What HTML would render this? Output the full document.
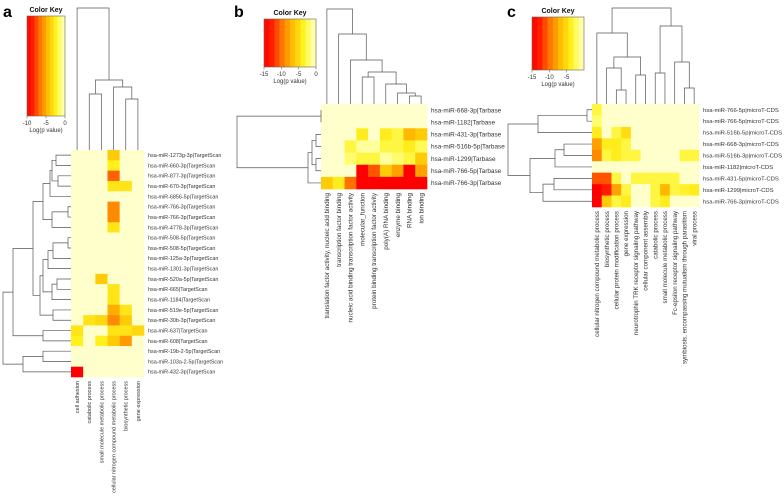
<!DOCTYPE html>
<html><head><meta charset="utf-8"><style>
html,body{margin:0;padding:0;background:#fff;width:784px;height:496px;overflow:hidden}
svg{display:block;font-family:"Liberation Sans",sans-serif}
</style></head><body>
<svg id="fig" width="784" height="496" viewBox="0 0 784 496"></svg>
<script>
// ---------- DATA ----------
const aRows = ["hsa-miR-1273g-3p|TargetScan","hsa-miR-660-3p|TargetScan","hsa-miR-877-3p|TargetScan","hsa-miR-670-3p|TargetScan","hsa-miR-6856-5p|TargetScan","hsa-miR-766-3p|TargetScan","hsa-miR-766-3p|TargetScan","hsa-miR-4778-3p|TargetScan","hsa-miR-508-5p|TargetScan","hsa-miR-508-5p|TargetScan","hsa-miR-125a-3p|TargetScan","hsa-miR-1301-3p|TargetScan","hsa-miR-520a-5p|TargetScan","hsa-miR-665|TargetScan","hsa-miR-1184|TargetScan","hsa-miR-519e-5p|TargetScan","hsa-miR-30b-3p|TargetScan","hsa-miR-637|TargetScan","hsa-miR-608|TargetScan","hsa-miR-19b-2-5p|TargetScan","hsa-miR-103a-2-5p|TargetScan","hsa-miR-432-3p|TargetScan"];
const aCols = ["cell adhesion","catabolic process","small molecule metabolic process","cellular nitrogen compound metabolic process","biosynthetic process","gene expression"];
const aVals = [
[0,0,0,-4,0,0],[0,0,0,-2.5,0,0],[0,0,0,-7,0,0],[0,0,0,-3,-3,0],[0,0,0,0,0,0],
[0,0,0,-6,0,0],[0,0,0,-6,0,0],[0,0,0,-3,0,0],[0,0,0,0,0,0],[0,0,0,0,0,0],
[0,0,0,0,0,0],[0,0,0,0,0,0],[0,0,-4,0,0,0],[0,0,0,-3,0,0],[0,0,0,-3,0,0],
[0,0,0,-5,-3,0],[0,-3,-3.5,-6,-4,0],[-3,0,0,-3,-3,-3.5],[-2.5,0,-2.5,-4,-5.5,0],
[0,0,0,0,0,0],[0,0,0,0,0,0],[-10,0,0,0,0,0]];
const aTicks = ["-10","-5","0"];

const bRows = ["hsa-miR-668-3p|Tarbase","hsa-miR-1182|Tarbase","hsa-miR-431-3p|Tarbase","hsa-miR-516b-5p|Tarbase","hsa-miR-1299|Tarbase","hsa-miR-766-5p|Tarbase","hsa-miR-766-3p|Tarbase"];
const bCols = ["translation factor activity, nucleic acid binding","transcription factor binding","nucleic acid binding transcription factor activity","molecular_function","protein binding transcription factor activity","poly(A) RNA binding","enzyme binding","RNA binding","ion binding"];
const bVals = [
[0,0,0,0,0,0,0,0,0],[0,0,0,0,0,0,0,0,0],
[0,0,0,-4,0,-4,-3,-7,-6],
[0,0,-3,-1,-1,-3,-3,-4,-2.5],
[0,0,-2,-3,-3,-1,-2,-3,-6],
[0,0,0,-15,-11,-6,-8,-15,-8],
[-6,-4,-10,-15,-15,-15,-15,-15,-15]];
const bTicks = ["-15","-10","-5","0"];

const cRows = ["hsa-miR-766-5p|microT-CDS","hsa-miR-766-5p|microT-CDS","hsa-miR-516b-5p|microT-CDS","hsa-miR-668-3p|microT-CDS","hsa-miR-516b-3p|microT-CDS","hsa-miR-1182|microT-CDS","hsa-miR-431-5p|microT-CDS","hsa-miR-1299|microT-CDS","hsa-miR-766-3p|microT-CDS"];
const cCols = ["cellular nitrogen compound metabolic process","biosynthetic process","cellular protein modification process","gene expression","neurotrophin TRK receptor signaling pathway","cellular component assembly","catabolic process","small molecule metabolic process","Fc-epsilon receptor signaling pathway","symbiosis, encompassing mutualism through parasitism","viral process"];
const cVals = [
[-3,0,0,0,0,0,0,0,0,0,0],
[-2,0,0,0,0,0,0,0,0,0,0],
[-4,0,-3,-5,0,0,0,0,0,0,0],
[-8,-4,-4,-3,0,0,0,0,0,0,0],
[-9,-3,-4,-3,-3,0,0,0,0,-3,-3],
[0,0,0,0,0,0,0,0,0,0,0],
[-11,-11,-3,0,-3,-3,-3,-3,-3,0,0],
[-15,-13,-8,-3,0,0,-3,-7,-3,-3.5,-4],
[-15,-6,-3,-4,0,0,-3,-4,0,0,0]];
const cTicks = ["-15","-10","-5"];

// dendrogram trees (leaf indices, merge position in px)
const aG1 = [[[[0,1,56],[2,3,58],52],4,50],[[5,6,68],7,52],43];
const aG2 = [[[8,9,68],10,53],11,48];
const aG3 = [[12,13,57],14,52];
const aG23 = [aG2,aG3,43];
const aG4 = [15,16,53];
const aMid = [aG1,[aG23,aG4,40],33];
const aUpper = [aMid,[17,18,43],13];
const aLower = [[19,20,43],21,23];
const aRowTree = [aUpper,aLower,3];

// ---------- DRAWING ----------
const svg = document.getElementById('fig');
const NS = 'http://www.w3.org/2000/svg';
function mk(tag, attrs, parent){const e=document.createElementNS(NS,tag);for(const k in attrs)e.setAttribute(k,attrs[k]);(parent||svg).appendChild(e);return e;}
function lerp(a,b,t){return Math.round(a+(b-a)*t);}
const stops=[[0,[255,255,204]],[0.12,[255,255,120]],[0.25,[255,240,30]],[0.45,[255,190,0]],[0.65,[255,120,0]],[0.85,[255,30,0]],[1,[255,0,0]]];
function color(v,min){let t=Math.max(0,Math.min(1,v/min));for(let i=1;i<stops.length;i++){if(t<=stops[i][0]){const s=stops[i-1],e=stops[i];const u=(t-s[0])/(e[0]-s[0]);return `rgb(${lerp(s[1][0],e[1][0],u)},${lerp(s[1][1],e[1][1],u)},${lerp(s[1][2],e[1][2],u)})`;}}return 'rgb(255,0,0)';}

function panel(cfg){
  const g=mk('g',{});
  
  
  const nR=cfg.rows.length,nC=cfg.cols.length;
  const cw=(cfg.x1-cfg.x0)/nC,rh=(cfg.y1-cfg.y0)/nR;
  const xs=i=>cfg.x0+cw*i, ys=j=>cfg.y0+rh*j;
  cfg.vals.forEach((row,j)=>row.forEach((v,i)=>{
    const r=mk('rect',{x:xs(i),y:ys(j),width:cw+0.3,height:rh+0.3,fill:color(v,cfg.min)},g);
    
    
  }));
  cfg.rows.forEach((t,j)=>{
    const e=mk('text',{x:cfg.x1+4,y:ys(j)+rh/2+cfg.rfs*0.35,'font-size':cfg.rfs,fill:'#333'},g);e.textContent=t;
    
    
  });
  cfg.cols.forEach((t,i)=>{
    const cx=xs(i)+cw/2+cfg.cfs*0.35, cy=cfg.y1+4;
    const e=mk('text',{x:cx,y:cy,'font-size':cfg.cfs,fill:'#333','text-anchor':'end',transform:`rotate(-90 ${cx} ${cy})`},g);e.textContent=t;
    
    
  });
  const k=cfg.key, steps=10;
  for(let s=0;s<steps;s++){
    const v=cfg.min*(1-(s+0.5)/steps);
    mk('rect',{x:k.x0+(k.x1-k.x0)*s/steps,y:k.y0,width:(k.x1-k.x0)/steps+0.3,height:k.y1-k.y0,fill:color(v,cfg.min)},g);
  }
  const kf=mk('rect',{x:k.x0,y:k.y0,width:k.x1-k.x0,height:k.y1-k.y0,fill:'none',stroke:'#666','stroke-width':0.6},g);
  
  
  const kt=mk('text',{x:(k.x0+k.x1)/2,y:k.y0-4,'font-size':7,'font-weight':'bold','text-anchor':'middle',fill:'#111'},g);kt.textContent='Color Key';
  
  
  cfg.ticks.forEach(t=>{
    const x=k.x0+(k.x1-k.x0)*(1-Number(t)/k.tmin);
    mk('line',{x1:x,x2:x,y1:k.y1,y2:k.y1+2.5,stroke:'#555','stroke-width':0.5},g);
    const e=mk('text',{x:x,y:k.y1+9,'font-size':6,'text-anchor':'middle',fill:'#333'},g);e.textContent=t;
    
    
  });
  const lg=mk('text',{x:(k.x0+k.x1)/2,y:k.y1+16,'font-size':6,'text-anchor':'middle',fill:'#333'},g);lg.textContent='Log(p value)';
  
  
  const L=mk('text',{x:cfg.lx,y:cfg.ly,'font-size':16,'font-weight':'bold',fill:'#000'},g);L.textContent=cfg.letter;
  
  
  function rowDendro(node){
    if(typeof node==='number') return {p:ys(node)+rh/2,h:cfg.x0};
    const a=rowDendro(node[0]),b=rowDendro(node[1]),h=node[2];
    mk('path',{d:`M${a.h},${a.p}H${h}V${b.p}H${b.h}`,fill:'none',stroke:'#555','stroke-width':0.7},g);
    return {p:(a.p+b.p)/2,h:h};
  }
  function colDendro(node){
    if(typeof node==='number') return {p:xs(node)+cw/2,h:cfg.y0};
    const a=colDendro(node[0]),b=colDendro(node[1]),h=node[2];
    mk('path',{d:`M${a.p},${a.h}V${h}H${b.p}V${b.h}`,fill:'none',stroke:'#555','stroke-width':0.7},g);
    return {p:(a.p+b.p)/2,h:h};
  }
  rowDendro(cfg.rtree); colDendro(cfg.ctree);
}

panel({name:'panel-a',letter:'a',lx:3,ly:17,x0:71,x1:144,y0:150,y1:377,min:-10,rfs:5.4,cfs:5.5,
  rows:aRows,cols:aCols,vals:aVals,ticks:aTicks,
  key:{x0:27,x1:65,y0:16,y1:116,tmin:-10},
  rtree:aRowTree,
  ctree:[0,[[1,2,94],[3,[4,5,99],87],80],8]});

panel({name:'panel-b',letter:'b',lx:234,ly:17,x0:321,x1:427,y0:104,y1:189,min:-15,rfs:6.4,cfs:6.3,
  rows:bRows,cols:bCols,vals:bVals,ticks:bTicks,
  key:{x0:264,x1:316,y0:19,y1:67,tmin:-15},
  rtree:[[0,1,321],[[[2,3,316],[4,5,316],312],6,308],237],
  ctree:[0,[1,[2,[[3,4,77],[5,[6,[7,8,96],93],84],72],60],34],9]});

panel({name:'panel-c',letter:'c',lx:507,ly:17,x0:592,x1:699,y0:104,y1:207,min:-15,rfs:5.9,cfs:6.2,
  rows:cRows,cols:cCols,vals:cVals,ticks:cTicks,
  key:{x0:532,x1:584,y0:17,y1:70,tmin:-15},
  rtree:[[[0,1,587],2,538],[[[3,4,564],5,555],[[6,7,554],8,543],530],508],
  ctree:[[0,[[1,[2,3,90],68],[4,5,75],57],33],[[6,7,73],[8,[9,10,88],62],26],8]});
</script>
</body></html>
